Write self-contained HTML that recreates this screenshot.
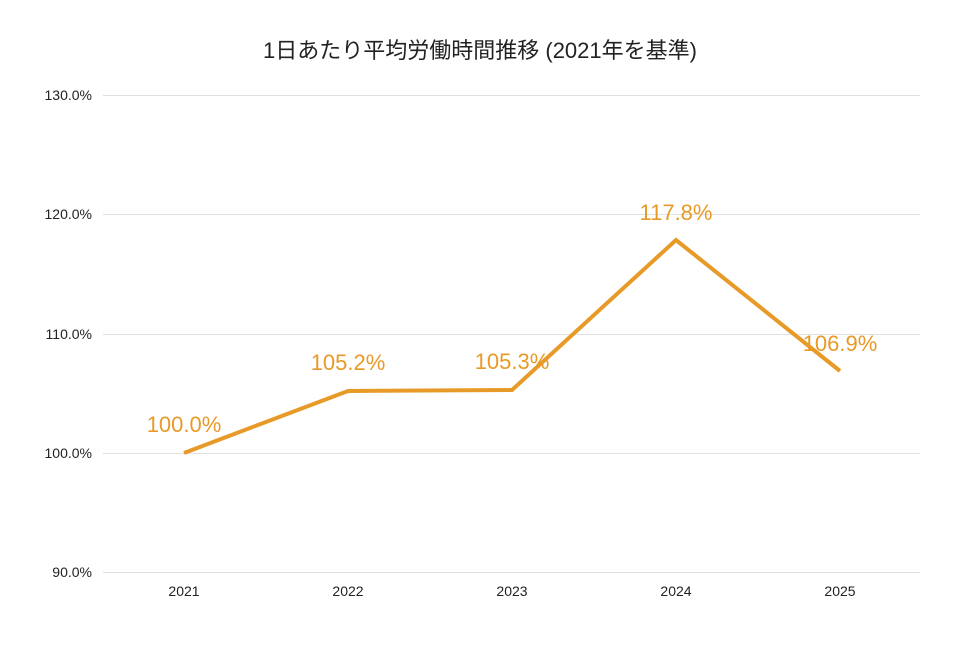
<!DOCTYPE html>
<html><head><meta charset="utf-8"><style>
body{margin:0;background:#fff;}
text{font-family:"Liberation Sans","Noto Sans CJK JP",sans-serif;}
</style></head><body>
<svg width="960" height="640" viewBox="0 0 960 640" xmlns="http://www.w3.org/2000/svg">
<rect width="960" height="640" fill="#fff"/>
<text x="480" y="58" text-anchor="middle" font-size="22" fill="#222">1日あたり平均労働時間推移 (2021年を基準)</text>
<g stroke="#e0e0e0" stroke-width="1">
<line x1="103" y1="95.5" x2="920" y2="95.5"/>
<line x1="103" y1="214.5" x2="920" y2="214.5"/>
<line x1="103" y1="334.5" x2="920" y2="334.5"/>
<line x1="103" y1="453.5" x2="920" y2="453.5"/>
<line x1="103" y1="572.5" x2="920" y2="572.5"/>
</g>
<g font-size="14" fill="#222" text-anchor="end">
<text x="92" y="100">130.0%</text>
<text x="92" y="219">120.0%</text>
<text x="92" y="339">110.0%</text>
<text x="92" y="458">100.0%</text>
<text x="92" y="577">90.0%</text>
</g>
<g font-size="14" fill="#222" text-anchor="middle">
<text x="184" y="596">2021</text>
<text x="348" y="596">2022</text>
<text x="512" y="596">2023</text>
<text x="676" y="596">2024</text>
<text x="840" y="596">2025</text>
</g>
<polyline points="184,453 348,391 512,390 676,240 840,371" fill="none" stroke="#E89A28" stroke-width="4" stroke-linejoin="miter"/>
<g font-size="22" fill="#E89A28" text-anchor="middle">
<text x="184" y="432">100.0%</text>
<text x="348" y="370">105.2%</text>
<text x="512" y="369">105.3%</text>
<text x="676" y="220">117.8%</text>
<text x="840" y="351">106.9%</text>
</g>
</svg>
</body></html>
